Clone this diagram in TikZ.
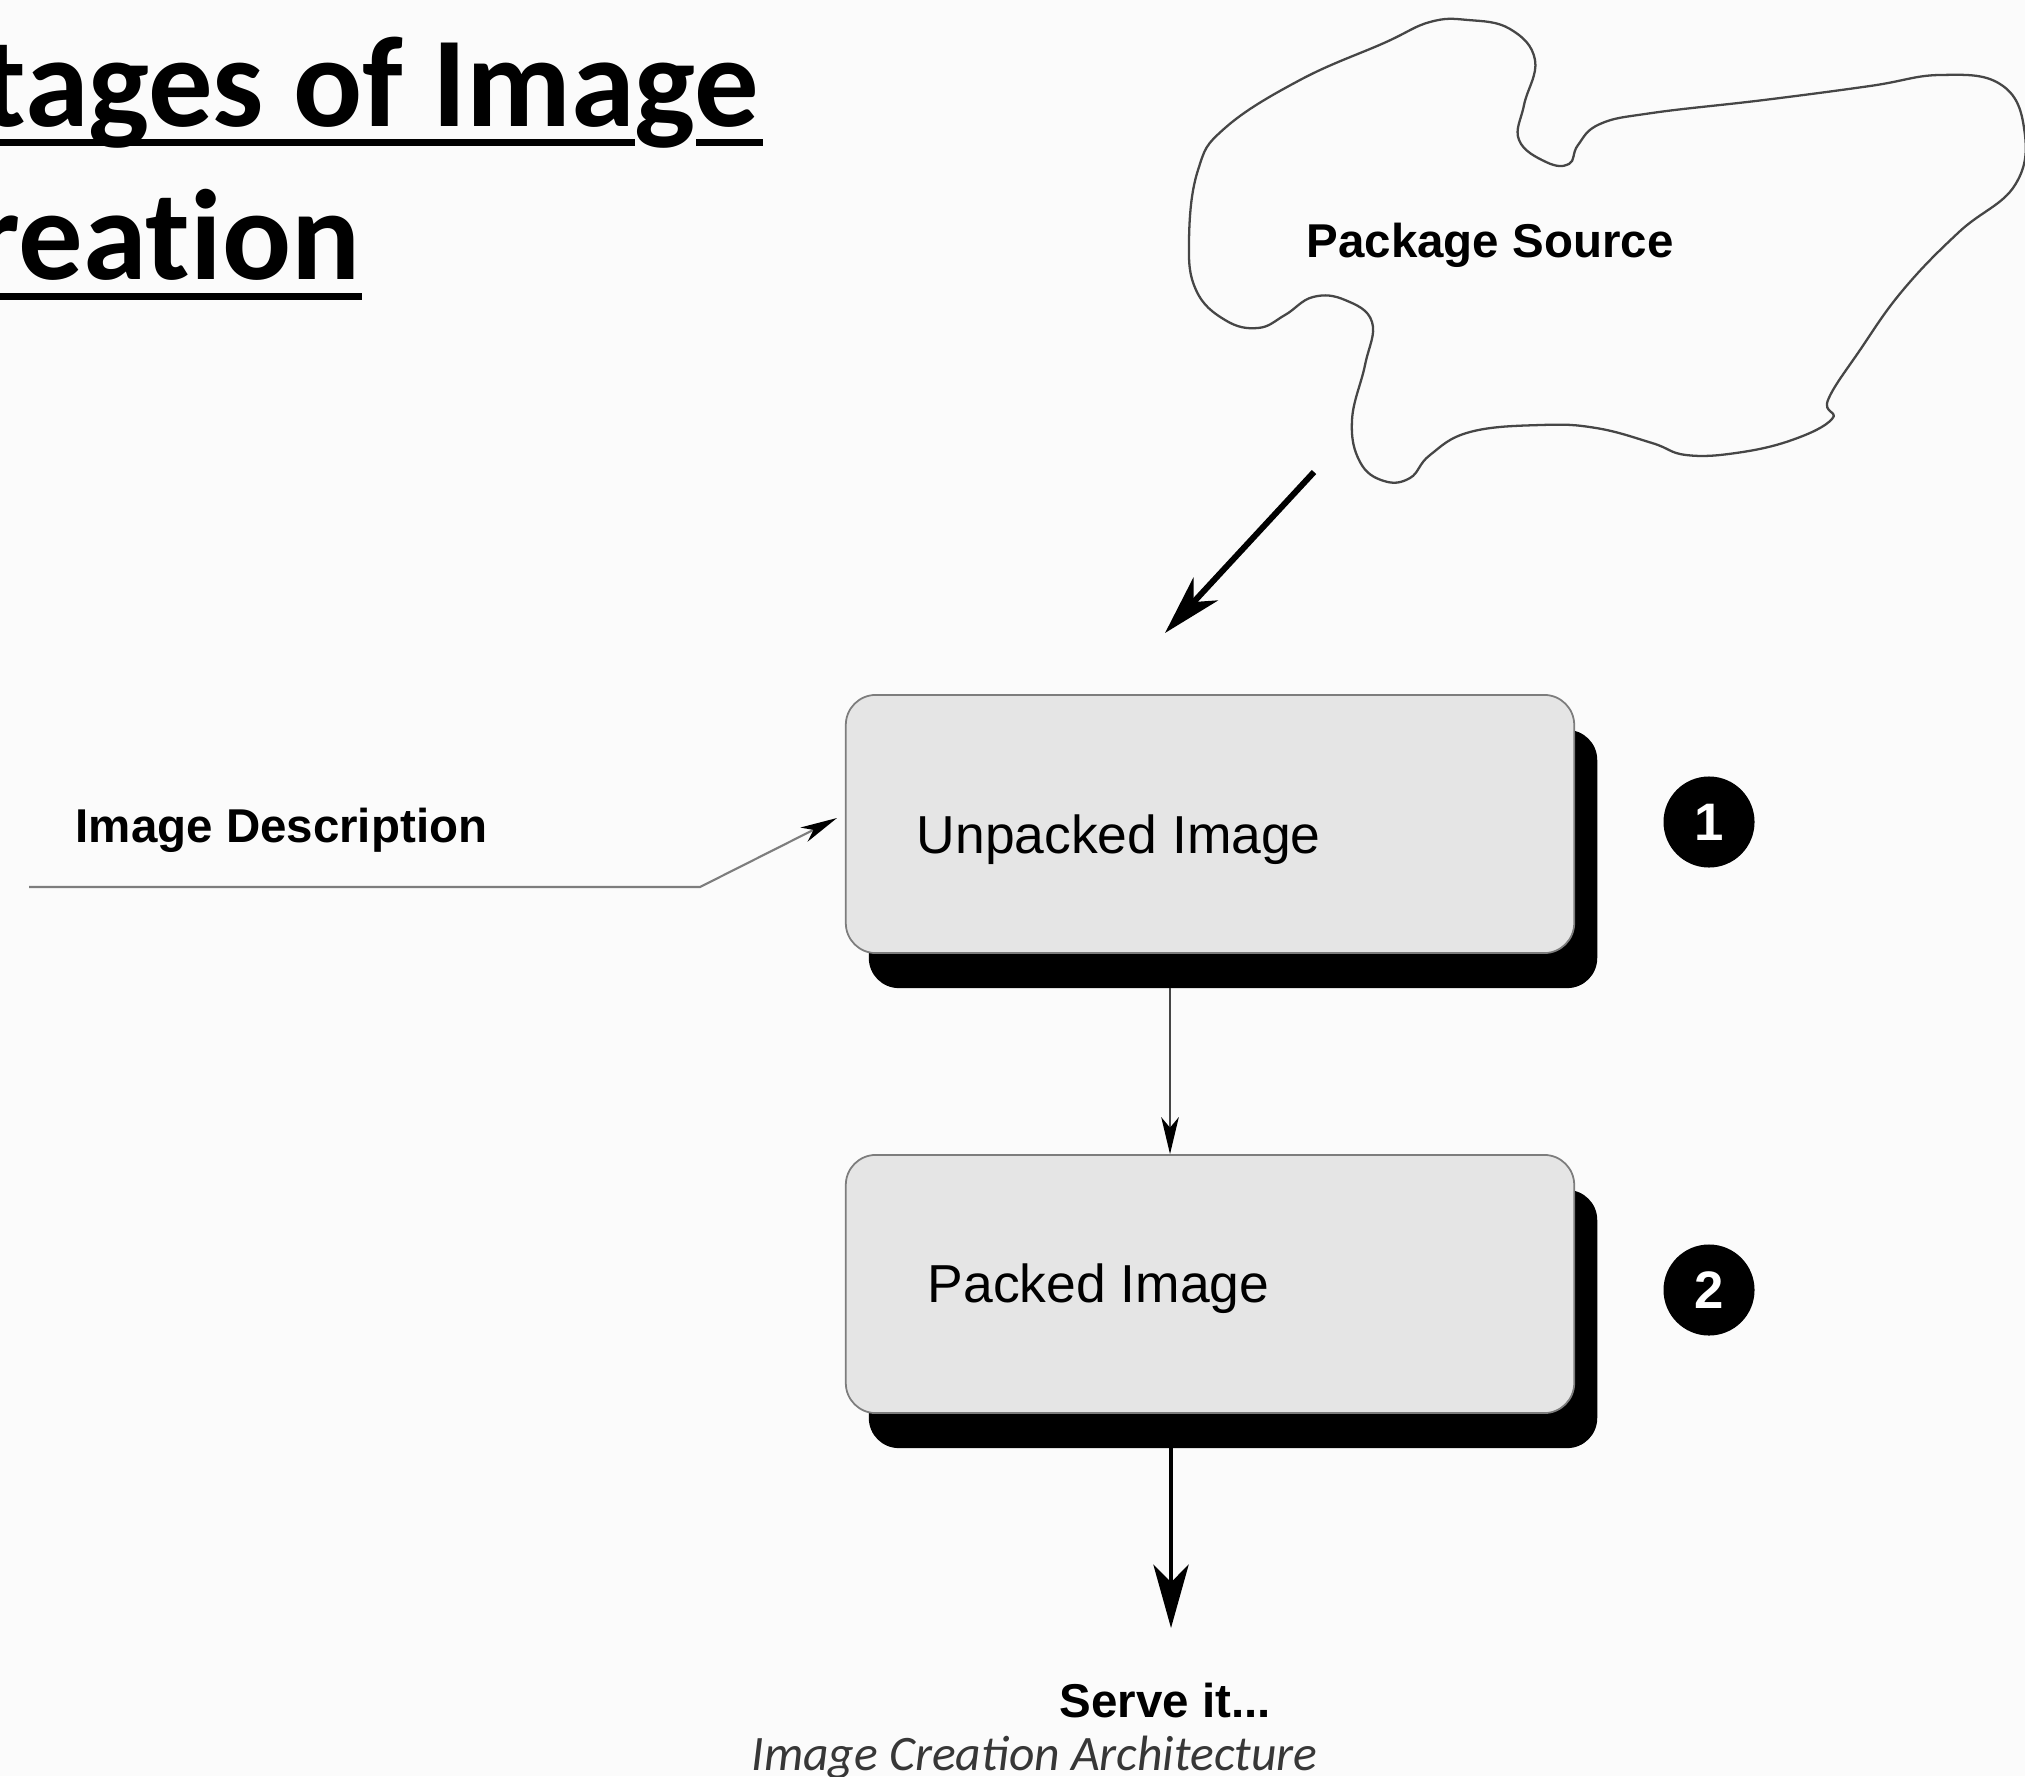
\documentclass[tikz,border=0pt]{standalone}
\usepackage{fontspec}
\setmainfont{Liberation Sans}
\newfontfamily\titlefont{Carlito}
\newfontfamily\headfamily{Carlito}[Ligatures=NoCommon]
\usetikzlibrary{arrows.meta,shadows}

\definecolor{paper}{RGB}{251,251,251}
\definecolor{boxfill}{RGB}{229,229,229}
\definecolor{boxline}{RGB}{125,125,125}
\definecolor{inkline}{RGB}{70,70,70}
\definecolor{captiongray}{RGB}{55,55,55}

\newcommand\headingfont{\headfamily\bfseries\fontsize{36.6pt}{44pt}\selectfont}
\newcommand\tagfont{\bfseries\fontsize{13.5pt}{16pt}\selectfont}
\newcommand\stagefont{\fontsize{15.2pt}{18pt}\selectfont}
\newcommand\numfont{\bfseries\fontsize{15pt}{18pt}\selectfont}
\newcommand\capfont{\titlefont\itshape\fontsize{14.1pt}{17pt}\selectfont}

\begin{document}
\begin{tikzpicture}[x=0.01cm, y=-0.01cm,
  stagebox/.style={draw=boxline, line width=0.5pt, fill=boxfill,
    rounded corners=0.3cm, minimum width=7.28cm, minimum height=2.58cm,
    inner sep=0pt,
    drop shadow={shadow xshift=0.23cm, shadow yshift=-0.35cm,
      opacity=1, fill=black}},
  stagetext/.style={anchor=base west, inner sep=0pt, font=\stagefont},
  tag/.style={anchor=base west, inner sep=0pt, font=\tagfont},
  stepnum/.style={circle, fill=black, text=white, minimum size=0.91cm,
    inner sep=0pt, font=\numfont},
  heading/.style={anchor=base east, inner sep=0pt, font=\headingfont},
  bigarrow/.style={line width=1.7pt,
    -{Stealth[length=17pt, width=9.5pt, inset=5pt]}},
  outarrow/.style={line width=1.4pt,
    -{Stealth[length=18pt, width=10pt, inset=5pt]}},
  thinarrow/.style={draw=inkline, line width=0.45pt,
    -{Stealth[length=10.5pt, width=5pt, inset=3pt, color=black]}},
  feedarrow/.style={draw=boxline, line width=0.6pt,
    -{Stealth[length=10.5pt, width=4.5pt, inset=3pt, color=black]}},
]
\path[use as bounding box, fill=paper] (0,0) rectangle (2025,1776);
\clip (0,0) rectangle (2025,1776);

% heading, set off the left edge
\node[heading] (head1) at (760,127) {Stages of Image};
\node[heading] (head2) at (361,280) {Creation};
\fill (0,139.5) rectangle (635,146.5);
\fill (696,139.5) rectangle (763,146.5);
\fill (0,293.5) rectangle (362,300.5);

% package source blob
\draw[inkline, line width=0.65pt] plot[smooth cycle, tension=0.7] coordinates {
  (1468,20) (1510,29) (1535,60) (1524,105) (1519,140) (1546,162)
  (1569,164) (1578,145) (1600,124) (1652,113) (1764,100)
  (1870,86) (1940,75) (2000,84) (2024,128) (2015,185)
  (1959,232) (1903,290) (1860,350) (1828,400) (1832,419)
  (1792,440) (1736,453) (1686,455) (1652,443) (1596,428) (1541,425)
  (1470,432) (1430,455) (1410,478) (1384,481) (1360,462)
  (1352,420) (1365,365) (1372,322) (1345,300) (1313,297)
  (1285,315) (1258,328) (1225,320) (1196,290) (1189,240)
  (1198,170) (1225,128) (1300,80) (1384,43) (1430,22)};
\node[tag] (source) at (1306,258) {Package Source};

% the two stages
\node[stagebox] (unpacked) at (1210,824) {};
\node[stagetext] (unpackedtxt) at (916,853) {Unpacked Image};
\node[stagebox] (packed) at (1210,1284) {};
\node[stagetext] (packedtxt) at (927,1302) {Packed Image};

\node[stepnum] (one) at (1709,822) {1};
\node[stepnum] (two) at (1709,1290) {2};

% inputs and outputs
\node[tag] (desc) at (75,842) {Image Description};
\node[tag] (serve) at (1059,1717) {Serve it...};
\node[anchor=base west, inner sep=0pt, font=\capfont, text=captiongray]
  (caption) at (751,1770) {Image Creation Architecture};

\coordinate (srcout) at (1314,472);
\coordinate (srcin) at (1165,633);
\coordinate (descstart) at (29,887);
\coordinate (descbend) at (700,887);
\coordinate (descin) at (837,818);
\coordinate (drop1) at (1170,988);
\coordinate (drop2) at (1171,1447);
\coordinate (servein) at (1171,1628);

\draw[bigarrow] (srcout) -- (srcin);
\draw[feedarrow] (descstart) -- (descbend) -- (descin);
\draw[thinarrow] (drop1) -- (packed.north -| drop1);
\draw[outarrow] (drop2) -- (servein);
\end{tikzpicture}
\end{document}
